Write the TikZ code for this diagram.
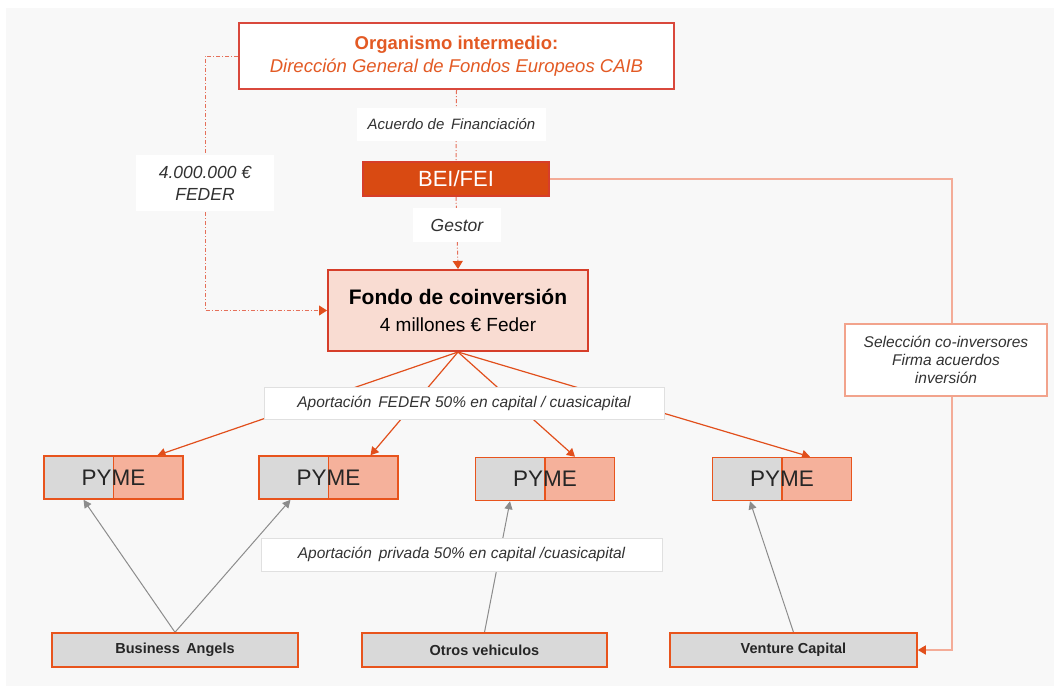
\documentclass[tikz,border=0pt]{standalone}
\usepackage{fontspec}
\setmainfont{Liberation Sans}
\usetikzlibrary{arrows.meta, calc, positioning, backgrounds}
\definecolor{orgred}{RGB}{217,72,60}
\definecolor{orgtext}{RGB}{227,90,36}
\definecolor{beiorange}{RGB}{217,74,18}
\definecolor{fondopink}{RGB}{249,220,210}
\definecolor{fondored}{RGB}{214,62,42}
\definecolor{pymegray}{RGB}{217,217,217}
\definecolor{pymesalmon}{RGB}{245,177,155}
\definecolor{pymeorange}{RGB}{232,84,29}
\definecolor{linesalmon}{RGB}{244,172,152}
\definecolor{dashred}{RGB}{229,112,90}
\definecolor{flowred}{RGB}{225,79,28}
\definecolor{privgray}{RGB}{140,140,140}
\definecolor{bggray}{RGB}{248,248,248}
\definecolor{txtgray}{RGB}{50,50,50}

\begin{document}
\begin{tikzpicture}[x=1pt, y=-1pt,
  orgbox/.style={draw=orgred, line width=2pt, fill=white, minimum width=435pt, minimum height=66pt, inner sep=0pt, align=center, text=orgtext, font=\fontsize{18.5}{23}\selectfont},
  beibox/.style={draw=fondored, line width=1.5pt, fill=beiorange, minimum width=186pt, minimum height=34pt, inner sep=0pt, text=white, font=\fontsize{22}{26}\selectfont},
  fondobox/.style={draw=fondored, line width=2pt, fill=fondopink, minimum width=260pt, minimum height=81pt, inner sep=0pt, align=center, text=black, font=\fontsize{19}{27}\selectfont},
  lbl/.style={fill=white, inner sep=0pt, align=center, text=txtgray, font=\fontsize{15.5}{18}\selectfont\itshape},
  aportbox/.style={lbl, draw=black!12, line width=1pt, minimum width=400pt, minimum height=32pt},
  selbox/.style={lbl, draw=linesalmon!90!flowred, line width=1.5pt, minimum width=202pt, minimum height=72pt},
  pymebox/.style={draw=pymeorange, line width=1.5pt, fill=pymegray, minimum width=139pt, minimum height=43pt, inner sep=0pt, text=black!85, font=\fontsize{22.5}{26}\selectfont,
    path picture={\fill[pymesalmon] (path picture bounding box.south) rectangle (path picture bounding box.north east);
      \draw[pymeorange, line width=1.5pt] (path picture bounding box.south) -- (path picture bounding box.north);}},
  invbox/.style={draw=pymeorange, line width=1.5pt, fill=pymegray, minimum width=246pt, minimum height=34pt, inner sep=0pt, text=black!85, font=\fontsize{14.5}{17}\selectfont\bfseries},
  flow/.style={draw=flowred, line width=1.2pt, -{Triangle[length=8pt, width=9pt]}},
  priv/.style={draw=privgray, line width=1pt, -{Triangle[length=8pt, width=8pt]}},
  dd/.style={draw=dashred, line width=1pt, dash pattern=on 4pt off 2pt on 1pt off 2pt},
  ddarrow/.style={dd, -{Triangle[length=8pt, width=10pt, color=flowred]}}
]
  % top chain
  \node[orgbox] (org) at (456.5,56) {\textbf{Organismo intermedio:}\\\textit{Dirección General de Fondos Europeos CAIB}};
  \node[beibox] (bei) at (456,179) {BEI/FEI};
  \node[fondobox] (fondo) at (458,310.5) {{\fontsize{21}{25}\selectfont\bfseries Fondo de coinversión}\\4 millones € Feder};

  \node[lbl, minimum width=189pt, minimum height=33pt, font=\fontsize{15}{18}\selectfont\itshape] (acuerdo) at (451.5,124.5) {Acuerdo de\, Financiación};
  \node[lbl, minimum width=88pt, minimum height=34pt, font=\fontsize{17.5}{21}\selectfont\itshape] (gestor) at (457,225) {Gestor};
  \node[lbl, minimum width=138pt, minimum height=56pt, font=\fontsize{17.5}{22}\selectfont\itshape] (feder) at (205,183) {4.000.000 €\\FEDER};

  % PYMEs
  \node[pymebox] (p1) at (113.5,477.5) {PYME};
  \node[pymebox] (p2) at (328.5,477.5) {PYME};
  \node[pymebox] (p3) at (545,479) {PYME};
  \node[pymebox] (p4) at (782,479) {PYME};
  \node[aportbox] (aportfeder) at (464,403) {Aportación\,\ FEDER 50\% en capital / cuasicapital};

  % co-investors
  \node[invbox] (ba) at (175,650) {Business\, Angels};
  \node[invbox, minimum width=245pt] (otros) at (484.5,650) {Otros vehiculos};
  \node[invbox, minimum width=247pt] (vc) at (793.5,650) {Venture Capital};
  \node[aportbox, minimum width=401pt, minimum height=33pt] (aportpriv) at (461.5,554.5) {Aportación\,\ privada 50\% en capital /cuasicapital};

  \node[selbox] (sel) at (946,360) {Selección co-inversores\\Firma acuerdos\\inversión};

  \begin{scope}[on background layer]
    % background
    \fill[white] (0,0) rectangle (1054,686);
    \fill[bggray] (6,8) rectangle (1054,686);

    \draw[dd] (org.south) -- (bei.north);
    \draw[ddarrow] (bei.south) -- (fondo.north);
    \draw[ddarrow] (org.west) -| (feder.center) |- (fondo.west);

    \draw[flow] (fondo.south) -- ($(p1.north)+(44,0)$);
    \draw[flow] (fondo.south) -- ($(p2.north)+(42,0)$);
    \draw[flow] (fondo.south) -- ($(p3.north)+(30,0)$);
    \draw[flow] (fondo.south) -- ($(p4.north)+(28,0)$);

    \draw[priv] (ba.north) -- ($(p1.south)+(-30,0)$);
    \draw[priv] (ba.north) -- ($(p2.south)+(-38,0)$);
    \draw[priv] (otros.north) -- ($(p3.south)+(-35,0)$);
    \draw[priv] (vc.north) -- ($(p4.south)+(-32,0)$);

    % selection line
    \draw[linesalmon, line width=1.5pt, -{Triangle[length=8pt, width=9pt, color=flowred]}] (bei.east) -| ([xshift=6pt]sel.center) |- (vc.east);
  \end{scope}
\end{tikzpicture}
\end{document}
